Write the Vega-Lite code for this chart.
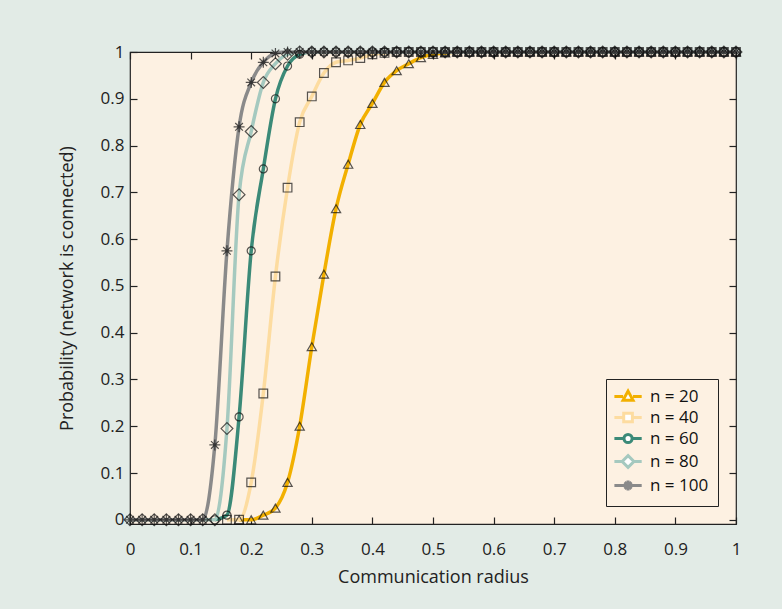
{
"$schema": "https://vega.github.io/schema/vega-lite/v6.json",
"autosize": "none",
"width": 606,
"height": 472,
"padding": {"left": 130, "top": 52, "right": 46, "bottom": 85},
"background": "#e2ebe6",
"datasets": {"d": [
{"n":20,"x":0.18,"p":0},{"n":20,"x":0.2,"p":0},{"n":20,"x":0.22,"p":0.01},{"n":20,"x":0.24,"p":0.025},{"n":20,"x":0.26,"p":0.08},{"n":20,"x":0.28,"p":0.2},{"n":20,"x":0.3,"p":0.37},{"n":20,"x":0.32,"p":0.525},{"n":20,"x":0.34,"p":0.665},{"n":20,"x":0.36,"p":0.76},{"n":20,"x":0.38,"p":0.845},{"n":20,"x":0.4,"p":0.89},{"n":20,"x":0.42,"p":0.935},{"n":20,"x":0.44,"p":0.96},{"n":20,"x":0.46,"p":0.975},{"n":20,"x":0.48,"p":0.988},{"n":20,"x":0.5,"p":0.995},{"n":20,"x":0.52,"p":0.998},{"n":20,"x":0.54,"p":1},{"n":20,"x":0.56,"p":1},{"n":20,"x":0.58,"p":1},{"n":20,"x":0.6,"p":1},{"n":20,"x":0.62,"p":1},{"n":20,"x":0.64,"p":1},{"n":20,"x":0.66,"p":1},{"n":20,"x":0.68,"p":1},{"n":20,"x":0.7,"p":1},{"n":20,"x":0.72,"p":1},{"n":20,"x":0.74,"p":1},{"n":20,"x":0.76,"p":1},{"n":20,"x":0.78,"p":1},{"n":20,"x":0.8,"p":1},{"n":20,"x":0.82,"p":1},{"n":20,"x":0.84,"p":1},{"n":20,"x":0.86,"p":1},{"n":20,"x":0.88,"p":1},{"n":20,"x":0.9,"p":1},{"n":20,"x":0.92,"p":1},{"n":20,"x":0.94,"p":1},{"n":20,"x":0.96,"p":1},{"n":20,"x":0.98,"p":1},{"n":20,"x":1,"p":1},
{"n":40,"x":0.16,"p":0},{"n":40,"x":0.18,"p":0},{"n":40,"x":0.2,"p":0.08},{"n":40,"x":0.22,"p":0.27},{"n":40,"x":0.24,"p":0.52},{"n":40,"x":0.26,"p":0.71},{"n":40,"x":0.28,"p":0.85},{"n":40,"x":0.3,"p":0.905},{"n":40,"x":0.32,"p":0.955},{"n":40,"x":0.34,"p":0.978},{"n":40,"x":0.36,"p":0.982},{"n":40,"x":0.38,"p":0.987},{"n":40,"x":0.4,"p":0.995},{"n":40,"x":0.42,"p":0.998},{"n":40,"x":0.44,"p":1},{"n":40,"x":0.46,"p":1},{"n":40,"x":0.48,"p":1},{"n":40,"x":0.5,"p":1},{"n":40,"x":0.52,"p":1},{"n":40,"x":0.54,"p":1},{"n":40,"x":0.56,"p":1},{"n":40,"x":0.58,"p":1},{"n":40,"x":0.6,"p":1},{"n":40,"x":0.62,"p":1},{"n":40,"x":0.64,"p":1},{"n":40,"x":0.66,"p":1},{"n":40,"x":0.68,"p":1},{"n":40,"x":0.7,"p":1},{"n":40,"x":0.72,"p":1},{"n":40,"x":0.74,"p":1},{"n":40,"x":0.76,"p":1},{"n":40,"x":0.78,"p":1},{"n":40,"x":0.8,"p":1},{"n":40,"x":0.82,"p":1},{"n":40,"x":0.84,"p":1},{"n":40,"x":0.86,"p":1},{"n":40,"x":0.88,"p":1},{"n":40,"x":0.9,"p":1},{"n":40,"x":0.92,"p":1},{"n":40,"x":0.94,"p":1},{"n":40,"x":0.96,"p":1},{"n":40,"x":0.98,"p":1},{"n":40,"x":1,"p":1},
{"n":60,"x":0.14,"p":0},{"n":60,"x":0.16,"p":0.01},{"n":60,"x":0.18,"p":0.22},{"n":60,"x":0.2,"p":0.575},{"n":60,"x":0.22,"p":0.75},{"n":60,"x":0.24,"p":0.9},{"n":60,"x":0.26,"p":0.97},{"n":60,"x":0.28,"p":0.995},{"n":60,"x":0.3,"p":1},{"n":60,"x":0.32,"p":1},{"n":60,"x":0.34,"p":1},{"n":60,"x":0.36,"p":1},{"n":60,"x":0.38,"p":1},{"n":60,"x":0.4,"p":1},{"n":60,"x":0.42,"p":1},{"n":60,"x":0.44,"p":1},{"n":60,"x":0.46,"p":1},{"n":60,"x":0.48,"p":1},{"n":60,"x":0.5,"p":1},{"n":60,"x":0.52,"p":1},{"n":60,"x":0.54,"p":1},{"n":60,"x":0.56,"p":1},{"n":60,"x":0.58,"p":1},{"n":60,"x":0.6,"p":1},{"n":60,"x":0.62,"p":1},{"n":60,"x":0.64,"p":1},{"n":60,"x":0.66,"p":1},{"n":60,"x":0.68,"p":1},{"n":60,"x":0.7,"p":1},{"n":60,"x":0.72,"p":1},{"n":60,"x":0.74,"p":1},{"n":60,"x":0.76,"p":1},{"n":60,"x":0.78,"p":1},{"n":60,"x":0.8,"p":1},{"n":60,"x":0.82,"p":1},{"n":60,"x":0.84,"p":1},{"n":60,"x":0.86,"p":1},{"n":60,"x":0.88,"p":1},{"n":60,"x":0.9,"p":1},{"n":60,"x":0.92,"p":1},{"n":60,"x":0.94,"p":1},{"n":60,"x":0.96,"p":1},{"n":60,"x":0.98,"p":1},{"n":60,"x":1,"p":1},
{"n":80,"x":0,"p":0},{"n":80,"x":0.02,"p":0},{"n":80,"x":0.04,"p":0},{"n":80,"x":0.06,"p":0},{"n":80,"x":0.08,"p":0},{"n":80,"x":0.1,"p":0},{"n":80,"x":0.12,"p":0},{"n":80,"x":0.14,"p":0},{"n":80,"x":0.16,"p":0.195},{"n":80,"x":0.18,"p":0.695},{"n":80,"x":0.2,"p":0.83},{"n":80,"x":0.22,"p":0.935},{"n":80,"x":0.24,"p":0.975},{"n":80,"x":0.26,"p":0.995},{"n":80,"x":0.28,"p":1},{"n":80,"x":0.3,"p":1},{"n":80,"x":0.32,"p":1},{"n":80,"x":0.34,"p":1},{"n":80,"x":0.36,"p":1},{"n":80,"x":0.38,"p":1},{"n":80,"x":0.4,"p":1},{"n":80,"x":0.42,"p":1},{"n":80,"x":0.44,"p":1},{"n":80,"x":0.46,"p":1},{"n":80,"x":0.48,"p":1},{"n":80,"x":0.5,"p":1},{"n":80,"x":0.52,"p":1},{"n":80,"x":0.54,"p":1},{"n":80,"x":0.56,"p":1},{"n":80,"x":0.58,"p":1},{"n":80,"x":0.6,"p":1},{"n":80,"x":0.62,"p":1},{"n":80,"x":0.64,"p":1},{"n":80,"x":0.66,"p":1},{"n":80,"x":0.68,"p":1},{"n":80,"x":0.7,"p":1},{"n":80,"x":0.72,"p":1},{"n":80,"x":0.74,"p":1},{"n":80,"x":0.76,"p":1},{"n":80,"x":0.78,"p":1},{"n":80,"x":0.8,"p":1},{"n":80,"x":0.82,"p":1},{"n":80,"x":0.84,"p":1},{"n":80,"x":0.86,"p":1},{"n":80,"x":0.88,"p":1},{"n":80,"x":0.9,"p":1},{"n":80,"x":0.92,"p":1},{"n":80,"x":0.94,"p":1},{"n":80,"x":0.96,"p":1},{"n":80,"x":0.98,"p":1},{"n":80,"x":1,"p":1},
{"n":100,"x":0,"p":0},{"n":100,"x":0.02,"p":0},{"n":100,"x":0.04,"p":0},{"n":100,"x":0.06,"p":0},{"n":100,"x":0.08,"p":0},{"n":100,"x":0.1,"p":0},{"n":100,"x":0.12,"p":0},{"n":100,"x":0.14,"p":0.16},{"n":100,"x":0.16,"p":0.575},{"n":100,"x":0.18,"p":0.84},{"n":100,"x":0.2,"p":0.935},{"n":100,"x":0.22,"p":0.978},{"n":100,"x":0.24,"p":0.997},{"n":100,"x":0.26,"p":1},{"n":100,"x":0.28,"p":1},{"n":100,"x":0.3,"p":1},{"n":100,"x":0.32,"p":1},{"n":100,"x":0.34,"p":1},{"n":100,"x":0.36,"p":1},{"n":100,"x":0.38,"p":1},{"n":100,"x":0.4,"p":1},{"n":100,"x":0.42,"p":1},{"n":100,"x":0.44,"p":1},{"n":100,"x":0.46,"p":1},{"n":100,"x":0.48,"p":1},{"n":100,"x":0.5,"p":1},{"n":100,"x":0.52,"p":1},{"n":100,"x":0.54,"p":1},{"n":100,"x":0.56,"p":1},{"n":100,"x":0.58,"p":1},{"n":100,"x":0.6,"p":1},{"n":100,"x":0.62,"p":1},{"n":100,"x":0.64,"p":1},{"n":100,"x":0.66,"p":1},{"n":100,"x":0.68,"p":1},{"n":100,"x":0.7,"p":1},{"n":100,"x":0.72,"p":1},{"n":100,"x":0.74,"p":1},{"n":100,"x":0.76,"p":1},{"n":100,"x":0.78,"p":1},{"n":100,"x":0.8,"p":1},{"n":100,"x":0.82,"p":1},{"n":100,"x":0.84,"p":1},{"n":100,"x":0.86,"p":1},{"n":100,"x":0.88,"p":1},{"n":100,"x":0.9,"p":1},{"n":100,"x":0.92,"p":1},{"n":100,"x":0.94,"p":1},{"n":100,"x":0.96,"p":1},{"n":100,"x":0.98,"p":1},{"n":100,"x":1,"p":1}
]},
"data": {"name": "d"},
"layer": [
{
"mark": {"type": "line", "strokeWidth": 3.5, "interpolate": "monotone"},
"encoding": {
"x": {"field": "x", "type": "quantitative", "scale": {"domain": [0, 1], "nice": false},
"axis": {"title": "Communication radius", "values": [0,0.1,0.2,0.3,0.4,0.5,0.6,0.7,0.8,0.9,1], "format": "~g", "labelPadding": 24, "titlePadding": 11}},
"y": {"field": "p", "type": "quantitative", "scale": {"domain": [-0.009, 1], "nice": false, "zero": false},
"axis": {"title": "Probability (network is connected)", "values": [0,0.1,0.2,0.3,0.4,0.5,0.6,0.7,0.8,0.9,1], "format": "~g", "labelPadding": 13, "titlePadding": 24}},
"color": {"field": "n", "type": "nominal",
"scale": {"domain": [20, 40, 60, 80, 100], "range": ["#f2b000", "#fddca0", "#3b8a78", "#a5c9bf", "#8a8a8a"]},
"legend": {"title": null, "orient": "bottom-right", "offset": 18, "padding": 9,
"strokeColor": "#222", "fillColor": "#fdf1e2", "labelExpr": "'n = ' + datum.label",
"labelFontSize": 17, "labelColor": "#111", "symbolSize": 196, "symbolStrokeWidth": 3, "rowPadding": 0, "labelOffset": 18,
"encode": {"symbols": {"update": {
"fill": {"value": "white"},
"shape": {"signal": "datum.value == 20 ? 'M-1.3,0H-0.06M1.36,0H2.6M0.65,-0.77L1.36,0.52L-0.06,0.52Z' : datum.value == 40 ? 'M-1.3,0H0.03M1.27,0H2.6M0.03,-0.62H1.27V0.62H0.03Z' : datum.value == 60 ? 'M-1.3,0H0.07M1.23,0H2.6M0.07,0A0.58,0.58,0,1,0,1.23,0A0.58,0.58,0,1,0,0.07,0Z' : datum.value == 80 ? 'M-1.3,0H-0.19M1.49,0H2.6M0.65,-0.84L1.49,0L0.65,0.84L-0.19,0Z' : 'M-1.3,0H2.6M0.65,-0.71V0.71M0.16,-0.49L1.14,0.49M0.16,0.49L1.14,-0.49'"}
}}}}
}
}
},
{
"transform": [{"filter": {"field": "n", "equal": 20}}],
"mark": {"type": "point", "filled": false, "stroke": "#111", "strokeWidth": 1.2, "shape": "triangle-up", "size": 85},
"encoding": {"x": {"field": "x", "type": "quantitative", "axis": null}, "y": {"field": "p", "type": "quantitative", "axis": null}}
},
{
"transform": [{"filter": {"field": "n", "equal": 40}}],
"mark": {"type": "point", "filled": false, "stroke": "#111", "strokeWidth": 1.2, "shape": "square", "size": 75},
"encoding": {"x": {"field": "x", "type": "quantitative", "axis": null}, "y": {"field": "p", "type": "quantitative", "axis": null}}
},
{
"transform": [{"filter": {"field": "n", "equal": 60}}],
"mark": {"type": "point", "filled": false, "stroke": "#111", "strokeWidth": 1.2, "shape": "circle", "size": 65},
"encoding": {"x": {"field": "x", "type": "quantitative", "axis": null}, "y": {"field": "p", "type": "quantitative", "axis": null}}
},
{
"transform": [{"filter": {"field": "n", "equal": 80}}],
"mark": {"type": "point", "filled": false, "stroke": "#111", "strokeWidth": 1.2, "shape": "diamond", "size": 140},
"encoding": {"x": {"field": "x", "type": "quantitative", "axis": null}, "y": {"field": "p", "type": "quantitative", "axis": null}}
},
{
"transform": [{"filter": {"field": "n", "equal": 100}}],
"mark": {"type": "point", "filled": false, "stroke": "#111", "strokeWidth": 1.2, "shape": "M-1,0H1M0,-1V1M-0.7,-0.7L0.7,0.7M-0.7,0.7L0.7,-0.7", "size": 120},
"encoding": {"x": {"field": "x", "type": "quantitative", "axis": null}, "y": {"field": "p", "type": "quantitative", "axis": null}}
},
{
"mark": {"type": "point", "opacity": 0},
"encoding": {
"x": {"field": "x", "type": "quantitative", "axis": {"orient": "top", "labels": false, "title": null, "values": [0,0.1,0.2,0.3,0.4,0.5,0.6,0.7,0.8,0.9,1]}},
"y": {"field": "p", "type": "quantitative", "axis": {"orient": "right", "labels": false, "title": null, "values": [0,0.1,0.2,0.3,0.4,0.5,0.6,0.7,0.8,0.9,1]}}
}
}
],
"resolve": {"axis": {"x": "independent", "y": "independent"}},
"config": {
"font": "Open Sans",
"view": {"fill": "#fdf1e2", "stroke": "#222", "strokeWidth": 1.2},
"axis": {"grid": false, "domain": false, "tickSize": -7, "tickColor": "#222", "tickWidth": 1.2,
"labelFlush": false, "labelOverlap": false,
"labelFont": "Open Sans", "labelFontSize": 17, "labelColor": "#222",
"titleFont": "Open Sans", "titleFontSize": 18, "titleFontWeight": "normal", "titleColor": "#222"}
}
}
